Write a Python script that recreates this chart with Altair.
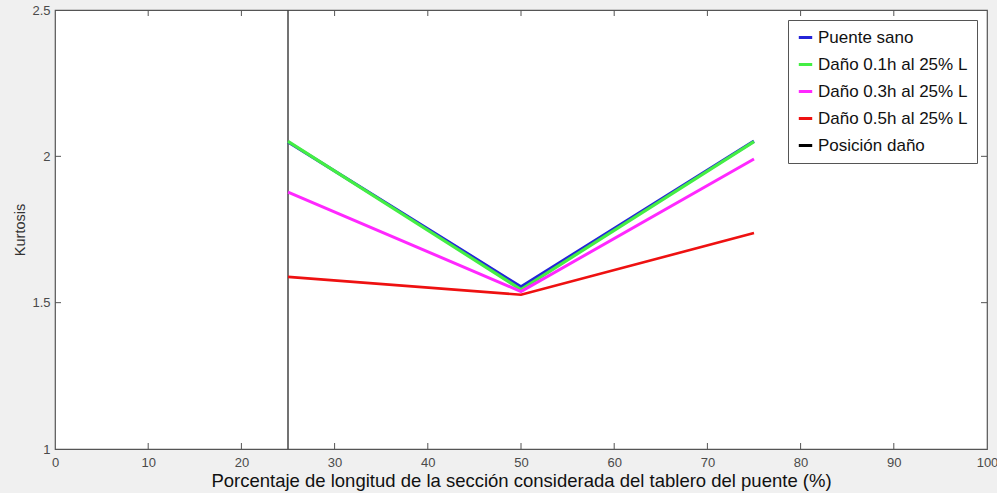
import altair as alt
import pandas as pd

# ---- data ----
positions = [25, 50, 75]
series_names = ["Puente sano", "Daño 0.1h al 25% L", "Daño 0.3h al 25% L",
                "Daño 0.5h al 25% L", "Posición daño"]
sano = [2.049, 1.554, 2.052]
d01 = [2.051, 1.545, 2.050]
d03 = [1.878, 1.538, 1.991]
d05 = [1.588, 1.527, 1.738]
dano_x = [25, 25]
dano_y = [1.0, 2.5]
colors = ["#2424d8", "#44ee44", "#ff28ff", "#ee1111", "#000000"]
x_ticks = [0, 10, 20, 30, 40, 50, 60, 70, 80, 90, 100]
y_ticks = [1, 1.5, 2, 2.5]

rows = []
for name, vals in zip(series_names[:4], [sano, d01, d03, d05]):
    for x, v in zip(positions, vals):
        rows.append({"serie": name, "x": x, "y": v})
for x, v in zip(dano_x, dano_y):
    rows.append({"serie": series_names[4], "x": x, "y": v})
df = pd.DataFrame(rows)

W, H = 932, 439
FONT = "Liberation Sans"

xs = alt.Scale(domain=[0, 100], nice=False)
ys = alt.Scale(domain=[1, 2.5], nice=False, zero=False)
cs = alt.Scale(domain=series_names, range=colors)

XT = "Porcentaje de longitud de la sección considerada del tablero del puente (%)"
xax = alt.Axis(values=x_ticks, tickSize=0, grid=False, domain=False,
               labelFontSize=13, labelColor="#4a4a4a", labelFont=FONT,
               labelPadding=7, labelFlush=False,
               title=XT, titleFontSize=18.5, titleFont=FONT, titleFontWeight="normal",
               titleColor="#111111", titlePadding=2)
yax = alt.Axis(values=y_ticks, tickSize=0, grid=False, domain=False,
               labelFontSize=13, labelColor="#4a4a4a", labelFont=FONT,
               labelPadding=5, labelFlush=False, format="~g",
               title="Kurtosis", titleFontSize=14.5, titleFont=FONT,
               titleFontWeight="normal", titleColor="#333333", titlePadding=4)

legend = alt.Legend(orient="none", legendX=733, legendY=10,
                    symbolType="stroke", symbolStrokeWidth=3,
                    symbolSize=180, labelFontSize=17,
                    labelFont=FONT, labelColor="#111111",
                    rowPadding=9, padding=9,
                    fillColor="white", strokeColor="#555555",
                    labelLimit=300, offset=0)

base = alt.Chart(df)

widths = {"Puente sano": 3.2, "Daño 0.1h al 25% L": 3.2, "Daño 0.3h al 25% L": 3,
          "Daño 0.5h al 25% L": 2.6}
layers = []
for name in series_names[:4]:
    layers.append(base.transform_filter(alt.datum.serie == name)
                  .mark_line(strokeWidth=widths[name])
                  .encode(x=alt.X("x:Q", scale=xs, axis=xax, title=XT),
                          y=alt.Y("y:Q", scale=ys, axis=yax, title="Kurtosis"),
                          color=alt.Color("serie:N", scale=cs, title=None, legend=legend)))

# damage position line (gray in the plot, black in the legend)
dano_line = base.transform_filter(alt.datum.serie == "Posición daño").mark_line(
    strokeWidth=1.5, color="#444444").encode(
    x=alt.X("x:Q", scale=xs, axis=xax, title=XT),
    y=alt.Y("y:Q", scale=ys, axis=yax, title="Kurtosis"))
legend_dummy = base.transform_filter(alt.datum.serie == "Posición daño").mark_line(
    strokeWidth=0, opacity=0).encode(
    x=alt.X("x:Q", scale=xs, axis=xax, title=XT),
    y=alt.Y("y:Q", scale=ys, axis=yax, title="Kurtosis"),
    color=alt.Color("serie:N", scale=cs, title=None, legend=legend))

# inward ticks (MATLAB style)
tx = pd.DataFrame({"x": x_ticks[1:-1]})
ty = pd.DataFrame({"y": y_ticks[1:-1]})
tick_col = "#555555"
bx = alt.Chart(tx).mark_rule(color=tick_col, strokeWidth=1).encode(
    x=alt.X("x:Q", scale=xs, axis=xax, title=XT), y=alt.value(H), y2=alt.value(H - 6))
tpx = alt.Chart(tx).mark_rule(color=tick_col, strokeWidth=1).encode(
    x=alt.X("x:Q", scale=xs, axis=xax, title=XT), y=alt.value(0), y2=alt.value(6))
ly = alt.Chart(ty).mark_rule(color=tick_col, strokeWidth=1).encode(
    y=alt.Y("y:Q", scale=ys, axis=yax, title="Kurtosis"), x=alt.value(0), x2=alt.value(6))
ry = alt.Chart(ty).mark_rule(color=tick_col, strokeWidth=1).encode(
    y=alt.Y("y:Q", scale=ys, axis=yax, title="Kurtosis"), x=alt.value(W), x2=alt.value(W - 6))

chart = alt.layer(dano_line, *layers, legend_dummy, bx, tpx, ly, ry).properties(
    width=W, height=H,
    autosize=alt.AutoSizeParams(type="none"),
    padding={"left": 55, "top": 10, "right": 10, "bottom": 44},
    background="#f0f0f0",
).configure_view(fill="white", stroke="#555555", strokeWidth=1.2)

chart.save("out.html", embed_options={"renderer": "svg", "actions": False})
